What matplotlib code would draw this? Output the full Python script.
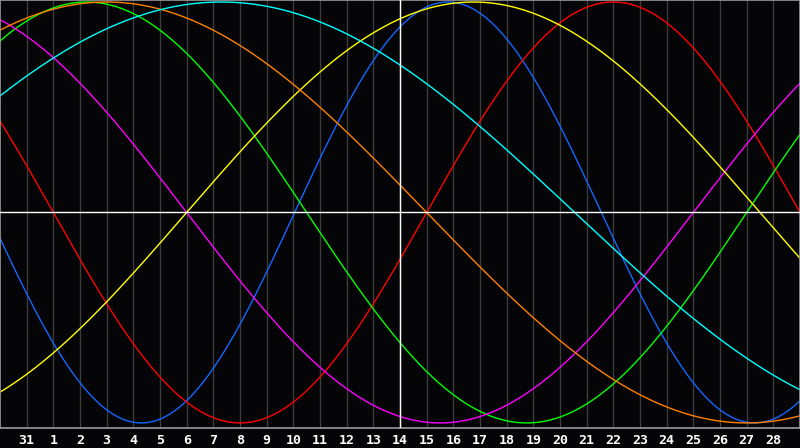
import numpy as np
import matplotlib
matplotlib.use("Agg")
import matplotlib.pyplot as plt

# day labels under the grid lines (positions 1..29)
day_labels = ["31"] + [str(d) for d in range(1, 29)]
today_pos = 15  # day 14

# cycles: period in days and the day index where the curve crosses zero going up
cycle_names = ["physical", "emotional", "intellectual", "intuitive", "aesthetic", "awareness", "spiritual"]
cycle_periods = [23, 28, 33, 38, 43, 48, 53]
cycle_zero_up = [11.05, 16.0, 28.0, 26.0, 7.0, -8.0, -4.95]
cycle_colours = ["#1466ff", "#ff0000", "#00ff00", "#ff00ff", "#ffff00", "#ff8000", "#00ffff"]

bg = "#050508"
fig = plt.figure(figsize=(8, 4.48), dpi=100, facecolor=bg)
ax = fig.add_axes([0, 20 / 448, 1, 428 / 448], facecolor=bg)

ax.set_xlim(0, 30)
ax.set_ylim(-1.024, 1.0095)

# grid
for p in range(1, 30):
    ax.axvline(p, color="#3c3c3c", linewidth=1, zorder=1)
ax.axvline(today_pos, color="white", linewidth=1, zorder=3)
ax.axhline(0, color="white", linewidth=1, zorder=3)

# curves
x = np.linspace(0, 30, 1201)
for period, z, col in zip(cycle_periods, cycle_zero_up, cycle_colours):
    ax.plot(x, np.sin(2 * np.pi * (x - z) / period), color=col, linewidth=1, zorder=2)

for side in ["left", "right", "top", "bottom"]:
    ax.spines[side].set_color("#9a9a9a")
    ax.spines[side].set_linewidth(1.2)

ax.set_yticks([])
ax.set_xticks(range(1, 30))
ax.set_xticklabels(day_labels, color="white", fontsize=9.5, fontweight="bold",
                   family="DejaVu Sans Mono")
ax.tick_params(axis="x", length=0, pad=4)

plt.savefig("out.png", dpi=100, facecolor=bg)
plt.close(fig)
